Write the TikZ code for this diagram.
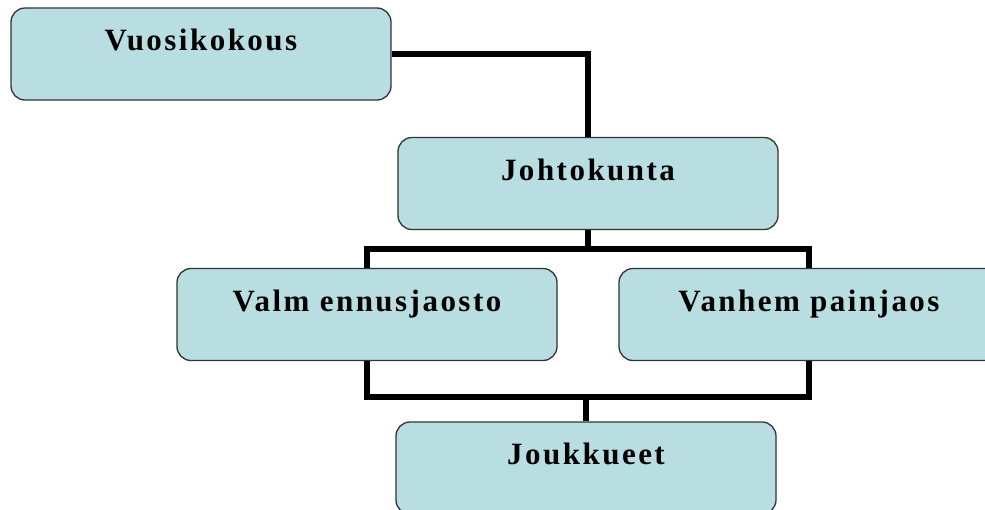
\documentclass[tikz,border=0pt]{standalone}
\usepackage{fontspec}
\setmainfont{Liberation Serif}[LetterSpace=8]
\definecolor{boxfill}{HTML}{B8DEE2}
\definecolor{boxline}{HTML}{333333}
\tikzset{
  orgbox/.style={draw=boxline, line width=1.3pt, fill=boxfill, rounded corners=14pt,
    minimum width=380pt, minimum height=92pt, inner sep=0pt,
    font=\fontsize{31}{31}\selectfont\bfseries, text height=22pt, text depth=29pt},
  link/.style={line width=5.5pt, black}
}
\begin{document}
\begin{tikzpicture}[x=1pt,y=-1pt]
\useasboundingbox (0,0) rectangle (985,509);
\clip (0,0) rectangle (985,509);
\fill[white] (0,0) rectangle (985,509);
\coordinate (t1) at (588,249);
\coordinate (t2) at (586,397);
\node[orgbox] (vuosi) at (201,54) {Vuosikokous};
\node[orgbox] (johto) at (588,183.5) {Johtokunta};
\node[orgbox] (valm) at (367,314.5) {Valm ennusjaosto};
\node[orgbox] (vanh) at (809,314.5) {Vanhem painjaos};
\node[orgbox] (jouk) at (586,468) {Joukkueet};
\draw[link] (vuosi.east |- 0,54) -| (johto.north);
\draw[link] (johto.south) -- (t1);
\draw[link] (valm.north) |- (t1) -| (vanh.north);
\draw[link] (valm.south) |- (t2) -| (vanh.south);
\draw[link] (t2) -- (jouk.north);
\end{tikzpicture}
\end{document}
